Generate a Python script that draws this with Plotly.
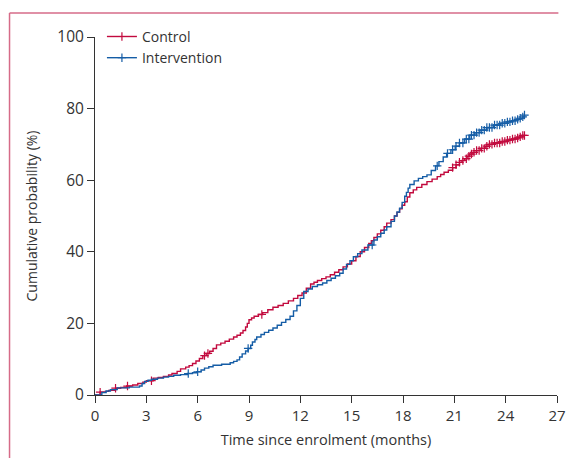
import numpy as np
import plotly.graph_objects as go

# ---- data ----
control_t = [0, 0.3, 0.6, 0.8, 1.2, 1.5, 1.85, 2.2, 2.5, 2.8, 3.0, 3.4, 3.7, 4.0, 4.3, 4.5, 4.8,
             5.0, 5.3, 5.5, 5.7, 5.9, 6.1, 6.3, 6.5, 6.7, 6.9, 7.1, 7.35, 7.6, 7.85, 8.1, 8.3,
             8.5, 8.65, 8.8, 8.9, 9.0, 9.15, 9.3, 9.55, 9.8, 10.1, 10.4, 10.7, 11.0, 11.3, 11.6,
             11.85, 12.1, 12.35, 12.6, 12.8, 13.0, 13.25, 13.5, 13.75, 14.0, 14.25, 14.5, 14.75,
             15.0, 15.25, 15.5, 15.75, 16.0, 16.15, 16.3, 16.5, 16.7, 16.9, 17.05, 17.3, 17.5,
             17.65, 17.8, 17.95, 18.1, 18.25, 18.4, 18.6, 18.8, 19.1, 19.4, 19.7, 20.0, 20.2,
             20.4, 20.65, 20.9, 21.1, 21.3, 21.45, 21.6, 21.75, 21.9, 22.1, 22.3, 22.55, 22.8,
             23.05, 23.3, 23.7, 24.1, 24.35, 24.6, 24.8, 25.0, 25.1]
control_p = [0, 0.8, 1.0, 1.3, 1.9, 2.1, 2.5, 2.8, 3.2, 3.6, 4.0, 4.7, 4.9, 5.2, 5.6, 6.0, 6.6,
             7.3, 7.8, 8.2, 8.8, 9.5, 10.2, 11.0, 11.6, 12.2, 13.0, 14.0, 14.5, 15.0, 15.6, 16.2, 16.7,
             17.3, 18.0, 19.0, 20.0, 21.0, 21.5, 22.0, 22.5, 23.0, 23.8, 24.5, 25.0, 25.6, 26.3, 27.0,
             27.8, 28.5, 29.8, 31.0, 31.5, 32.0, 32.5, 33.0, 33.6, 34.3, 35.0, 35.8, 36.6,
             37.5, 38.7, 40.0, 41.2, 42.3, 43.1, 44.0, 45.0, 46.0, 47.0, 48.0, 49.0, 50.0,
             51.0, 52.0, 53.0, 54.0, 55.3, 56.5, 57.3, 58.0, 58.8, 59.6, 60.3, 61.0, 61.6,
             62.2, 62.8, 63.5, 64.3, 65.0, 65.5, 66.0, 66.7, 67.3, 67.8, 68.3, 68.9, 69.5,
             70.0, 70.4, 70.8, 71.2, 71.5, 71.8, 72.1, 72.5, 72.5]

interv_t = [0, 0.4, 0.65, 0.9, 1.3, 2.0, 2.6, 2.75, 2.9, 3.1, 3.3, 3.65, 4.0, 4.3, 4.6, 5.0, 5.4,
            5.7, 5.95, 6.2, 6.4, 6.65, 6.9, 7.4, 7.9, 8.1, 8.3, 8.45, 8.6, 8.8, 8.95, 9.1, 9.2,
            9.35, 9.45, 9.7, 9.9, 10.15, 10.4, 10.65, 10.9, 11.15, 11.4, 11.6, 11.8, 12.0, 12.2,
            12.45, 12.7, 13.0, 13.3, 13.55, 13.8, 14.05, 14.3, 14.5, 14.7, 14.9, 15.1, 15.35,
            15.6, 15.95, 16.3, 16.5, 16.7, 16.9, 17.05, 17.3, 17.5, 17.65, 17.8, 17.95, 18.1,
            18.2, 18.3, 18.4, 18.65, 18.9, 19.15, 19.4, 19.65, 19.9, 20.1, 20.35, 20.55, 20.8, 21.05,
            21.3, 21.6, 21.9, 22.2, 22.5, 22.9, 23.3, 23.7, 24.1, 24.35, 24.6, 24.8, 25.0, 25.1]
interv_p = [0, 0.7, 1.1, 1.5, 2.0, 2.2, 2.5, 3.2, 3.8, 4.1, 4.4, 4.7, 5.0, 5.2, 5.5, 5.7, 6.0,
            6.2, 6.5, 7.0, 7.5, 7.9, 8.3, 8.6, 9.0, 9.4, 9.8, 10.6, 11.5, 12.3, 13.0, 13.9, 14.8,
            15.5, 16.2, 16.9, 17.5, 18.1, 18.7, 19.5, 20.3, 21.1, 22.0, 23.5, 25.0, 27.0, 28.9,
            29.6, 30.3, 30.8, 31.3, 32.0, 32.6, 33.3, 34.0, 35.2, 36.5, 37.5, 38.6, 39.5,
            40.5, 41.9, 43.3, 44.2, 45.2, 46.1, 47.0, 48.5, 50.0, 51.1, 52.2, 53.8, 55.5,
            56.6, 57.8, 58.8, 59.8, 60.5, 61.0, 61.5, 62.7, 64.0, 65.2, 66.5, 67.5, 68.5, 69.5,
            70.4, 71.5, 72.6, 73.3, 74.0, 74.7, 75.4, 75.9, 76.3, 76.6, 77.0, 77.3, 77.7, 78.2]

control_censor = [0.3, 1.2, 1.9, 3.3, 6.4, 6.6, 9.75, 20.9, 21.1, 21.3, 21.5, 21.7, 21.85, 22.0,
                  22.15, 22.3, 22.45, 22.6, 22.75, 22.9, 23.05, 23.2, 23.35, 23.5, 23.65, 23.8,
                  23.95, 24.1, 24.25, 24.4, 24.55, 24.7, 24.85, 25.0, 25.1]
interv_censor = [5.45, 6.0, 8.95, 16.2, 20.0, 20.6, 20.9, 21.1, 21.3, 21.5, 21.7, 21.85, 22.0,
                 22.15, 22.3, 22.45, 22.6, 22.75, 22.9, 23.05, 23.2, 23.35, 23.5, 23.65, 23.8,
                 23.95, 24.1, 24.25, 24.4, 24.55, 24.7, 24.85, 25.0, 25.1]

x_ticks = [0, 3, 6, 9, 12, 15, 18, 21, 24, 27]
y_ticks = [0, 20, 40, 60, 80, 100]

RED = "#c20a3e"
BLUE = "#155da6"
TXT = "#333333"
FONT = "Open Sans"


def step_value(ts, ps, q):
    idx = np.searchsorted(np.array(ts), np.array(q), side="right") - 1
    return [ps[i] for i in idx]


fig = go.Figure()
for name, ts, ps, cens, col in [("Control", control_t, control_p, control_censor, RED),
                                ("Intervention", interv_t, interv_p, interv_censor, BLUE)]:
    fig.add_trace(go.Scatter(x=ts, y=ps, mode="lines", line=dict(color=col, width=1.4, shape="hv"),
                             showlegend=False, hoverinfo="skip"))
    fig.add_trace(go.Scatter(x=cens, y=step_value(ts, ps, cens), mode="markers",
                             marker=dict(symbol="cross-thin", size=6, line=dict(color=col, width=1.2)),
                             showlegend=False, hoverinfo="skip"))
    fig.add_trace(go.Scatter(x=[None], y=[None], mode="lines+markers", name=name,
                             line=dict(color=col, width=1.4),
                             marker=dict(symbol="cross-thin", size=6, line=dict(color=col, width=1.2))))

fig.update_layout(
    width=566, height=458,
    margin=dict(l=95, r=9, t=37, b=63, autoexpand=False),
    paper_bgcolor="white", plot_bgcolor="white",
    font=dict(family=FONT, size=14, color=TXT),
    showlegend=True,
    legend=dict(x=0.015, y=1.045, xanchor="left", yanchor="top", bgcolor="rgba(0,0,0,0)",
                font=dict(size=14, color=TXT), itemwidth=30, tracegroupgap=0),
    xaxis=dict(range=[0, 27], tickvals=x_ticks, ticks="outside", ticklen=7, tickcolor=TXT,
               showline=True, linecolor=TXT, linewidth=1, showgrid=False, zeroline=False,
               automargin=False, ticklabeloverflow="allow",
               title=dict(text="Time since enrolment (months)", standoff=10, font=dict(size=14.5)),
               tickfont=dict(size=15)),
    yaxis=dict(range=[0, 100], tickvals=y_ticks, ticks="outside", ticklen=7, tickcolor=TXT,
               showline=True, linecolor=TXT, linewidth=1, showgrid=False, zeroline=False,
               automargin=False, ticklabeloverflow="allow",
               title=dict(text="Cumulative probability (%)", standoff=16, font=dict(size=14)),
               tickfont=dict(size=15.5)),
    shapes=[
        dict(type="line", xref="paper", yref="paper", x0=-0.185, x1=-0.185, y0=1.067, y1=-0.2,
             line=dict(color="#d66b88", width=1.5)),
        dict(type="line", xref="paper", yref="paper", x0=-0.185, x1=1.003, y0=1.067, y1=1.067,
             line=dict(color="#d66b88", width=1.5)),
    ],
)

# remove the default page margin so the 566x458 figure fills the window exactly
fig.write_html("out.html", config={"displayModeBar": False, "staticPlot": True},
               post_script="document.body.style.margin='0';document.body.style.overflow='hidden';")
